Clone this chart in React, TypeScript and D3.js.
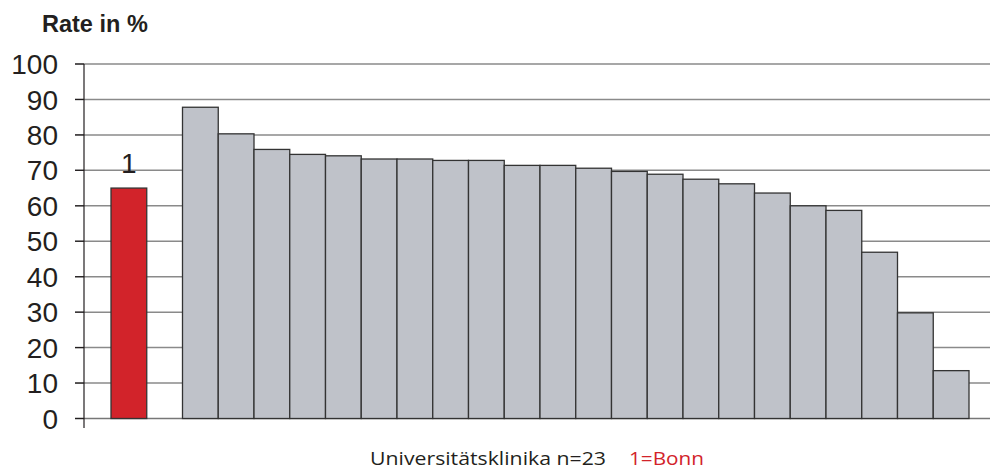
import React from "react";
import * as d3 from "d3";

const categories = ["Bonn", "", ...Array.from({ length: 22 }, (_, i) => `U${i + 2}`)];
const values: (number | null)[] = [
  65, null,
  87.8, 80.3, 75.9, 74.5, 74.1, 73.2, 73.2, 72.8, 72.8, 71.4, 71.4,
  70.6, 69.7, 68.9, 67.5, 66.2, 63.6, 60.0, 58.7, 46.9, 29.8, 13.5,
];
const yTicks = [0, 10, 20, 30, 40, 50, 60, 70, 80, 90, 100];

export default function App() {
  const W = 991, H = 472;
  const x = d3.scaleBand<string>().domain(categories).range([111, 969]).padding(0);
  const y = d3.scaleLinear().domain([0, 100]).range([418.5, 64]);
  const axisX = 84;
  return (
    <svg width={W} height={H} style={{ position: "absolute", left: 0, top: 0, background: "#fff" }}>
      <text x={42} y={31.5} fontFamily="Liberation Sans, Arial, sans-serif" fontWeight="bold" fontSize={23.5} fill="#231f20">Rate in %</text>
      {yTicks.map((t) => (
        <g key={t}>
          <line x1={75} x2={990} y1={y(t)} y2={y(t)} stroke={t === 0 ? "#777" : "#8a8a8a"} strokeWidth={1.5} />
          <line x1={75} x2={axisX} y1={y(t)} y2={y(t)} stroke="#231f20" strokeWidth={1.2} />
          <text x={58} y={y(t)} dy="0.36em" textAnchor="end" fontFamily="Liberation Sans, Arial, sans-serif" fontSize={28} fill="#231f20">{t}</text>
        </g>
      ))}
      <line x1={axisX} x2={axisX} y1={64} y2={428} stroke="#231f20" strokeWidth={1.2} />
      {values.map((v, i) =>
        v == null ? null : (
          <rect
            key={i}
            x={x(categories[i])!}
            y={y(v)}
            width={x.bandwidth()}
            height={y(0) - y(v)}
            fill={i === 0 ? "#d2232a" : "#bfc2c9"}
            stroke="#333"
            strokeWidth={1.3}
          />
        )
      )}
      <text x={x(categories[0])! + x.bandwidth() / 2} y={y(values[0]!) - 15.5} textAnchor="middle" fontFamily="Liberation Sans, Arial, sans-serif" fontSize={28} fill="#231f20">1</text>
      <text x={370} y={465} fontFamily="Open Sans, Noto Sans, sans-serif" fontSize={18.5} fill="#231f20" textLength={236} lengthAdjust="spacingAndGlyphs">Universitätsklinika n=23</text>
      <text x={629} y={465} fontFamily="Open Sans, Noto Sans, sans-serif" fontSize={18.5} fill="#d2232a" textLength={75} lengthAdjust="spacingAndGlyphs">1=Bonn</text>
    </svg>
  );
}
